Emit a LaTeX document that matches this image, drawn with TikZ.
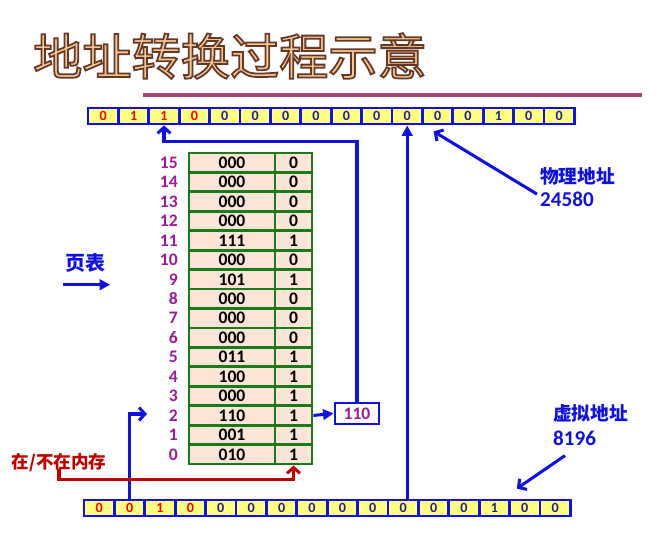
\documentclass[tikz,border=0pt]{standalone}
\usepackage{fontspec}
\usepackage{xcolor}
\usetikzlibrary{arrows.meta,positioning,calc}
\setmainfont{Carlito}
\newfontfamily\cjk{Noto Sans CJK SC}
\definecolor{pblue}{HTML}{1010E6}
\definecolor{nbit}{HTML}{1F1F99}
\definecolor{bitfill}{HTML}{FFFF80}
\definecolor{tgreen}{HTML}{1A7A1A}
\definecolor{tfill}{HTML}{FCE4D6}
\definecolor{lpurple}{HTML}{9A1A9A}
\definecolor{dred}{HTML}{C00000}
\definecolor{rulec}{HTML}{A3476F}
\definecolor{ttlfill}{HTML}{F6C994}
% outlined title text (fill + stroke render mode)
\newcommand{\outl}[1]{\special{pdf:literal direct 2 Tr 1.5 w 0.40 0.22 0.14 RG}#1\special{pdf:literal direct 0 Tr}}
\tikzset{
  % one cell of an address register
  bit/.style={draw=pblue, fill=bitfill, line width=2.4pt, minimum width=9.12mm, minimum height=4.8mm,
              inner sep=0pt, text=nbit, font=\bfseries\fontsize{12}{12}\selectfont},
  hibit/.style={bit, text=red},
  % page table cells
  pgcell/.style={draw=tgreen, fill=tfill, line width=2.4pt, minimum width=25.8mm, minimum height=5.83mm,
                 inner sep=0pt, font=\bfseries\fontsize{15}{15}\selectfont},
  flcell/.style={pgcell, minimum width=11.1mm},
  rowno/.style={anchor=east, inner sep=0pt, text=lpurple, font=\bfseries\fontsize{15}{15}\selectfont},
  pfbox/.style={draw=pblue, fill=white, line width=2.4pt, minimum width=13.2mm, minimum height=6.3mm,
                inner sep=0pt, text=lpurple, font=\bfseries\fontsize{15}{15}\selectfont},
  lab/.style={inner sep=0pt, text=pblue, font=\cjk\bfseries\fontsize{16}{16}\selectfont},
  num/.style={inner sep=0pt, text=pblue, font=\bfseries\fontsize{18}{18}\selectfont},
  barr/.style={-{Straight Barb[length=5pt,width=11pt,line width=2.6pt]}, line width=2.6pt, color=pblue},
  tarr/.style={-{Triangle[length=9pt,width=9pt]}, line width=2.6pt, color=pblue},
  rarr/.style={-{Straight Barb[length=5pt,width=11pt,line width=2.6pt]}, line width=2.6pt, color=dred},
}
\begin{document}
\begin{tikzpicture}[x=0.3mm, y=-0.3mm]
  \useasboundingbox (0,0) rectangle (669,540);

  \draw[rulec, line width=3pt] (143,95) -- (642,95);

  % physical address (top) and virtual address (bottom)
  \foreach \b [count=\i] in {0,1,1,0,0,0,0,0,0,0,0,0,0,1,0,0} {
    \ifnum\i<5 \def\bs{hibit}\else\def\bs{bit}\fi
    \node[\bs] (pa-\i) at ({88+30.4*(\i-0.5)},116) {\b};
  }
  \foreach \b [count=\i] in {0,0,1,0,0,0,0,0,0,0,0,0,0,1,0,0} {
    \ifnum\i<5 \def\bs{hibit}\else\def\bs{bit}\fi
    \node[\bs] (va-\i) at ({84+30.4*(\i-0.5)},508) {\b};
  }

  % page table, row 15 at the top
  \foreach \pgn/\fg [count=\k, evaluate=\k as \r using int(16-\k)] in
      {000/0,000/0,000/0,000/0,111/1,000/0,101/1,000/0,000/0,000/0,011/1,100/1,000/1,110/1,001/1,010/1} {
    \node[pgcell] (pg-\r) at (232,{143.28+19.44*\k}) {\pgn};
    \node[flcell] (fl-\r) at (293.5,{143.28+19.44*\k}) {\fg};
    \node[rowno]  (lab-\r) at (178,{143.28+19.44*\k}) {\r};
  }

  \node[pfbox] (pf) at (357,413.5) {110};

  \node[lab, anchor=west] (phys) at (540,176) {物理地址};
  \node[num, anchor=west] (pnum) at (540,199) {24580};
  \node[lab, anchor=west] (virt) at (553,413) {虚拟地址};
  \node[num, anchor=west] (vnum) at (553,438) {8196};
  \node[lab, font=\cjk\bfseries\fontsize{17}{17}\selectfont] (ptlab) at (85,263) {页表};
  \node[lab, text=dred, font=\cjk\bfseries\fontsize{15}{15}\selectfont] (instr) at (59,463) {在/不在内存};
  \coordinate (vin) at (147,414);

  \draw[tarr] (fl-2.east) -- (pf.west);
  \draw[barr] (pf.north) |- ($(pa-3.south)+(0,16)$) -- (pa-3.south);
  \draw[barr] (va-2.north) |- (vin);
  \draw[tarr] (pa-11.south |- va-11.north) -- (pa-11.south);
  \draw[barr] ([shift={(-3,9)}]phys.south west) -- ([shift={(-4,6)}]pa-12.south);
  \draw[barr] ([shift={(12,10)}]vnum.south west) -- ([shift={(-8,-10)}]va-15.north);
  \draw[tarr] ([shift={(-2,12)}]ptlab.south west) -- ([shift={(5,12)}]ptlab.south east);
  \draw[rarr] ([yshift=3]instr.south) -- ++(0,11) -| (fl-0.south);

  % title last: its stroke colour is set by a raw literal
  \node[inner sep=0pt, text=ttlfill, font=\cjk\fontsize{42}{42}\selectfont] (ttl) at (230,56)
       {\outl{地址转换过程示意}};
\end{tikzpicture}
\end{document}
